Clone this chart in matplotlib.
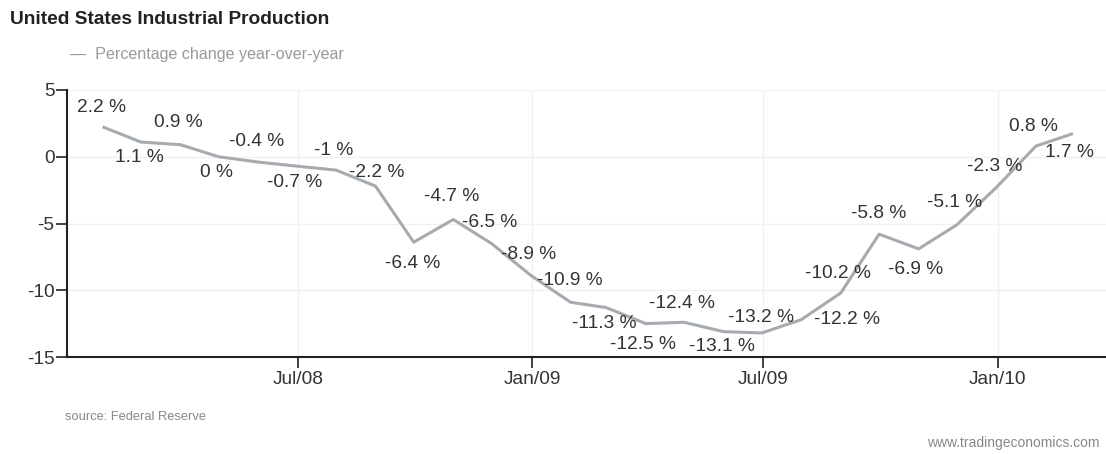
import matplotlib
matplotlib.use("Agg")
import matplotlib.pyplot as plt
import matplotlib.dates as mdates
import numpy as np
import pandas as pd

# ---- data ----
dates = pd.date_range("2008-01-31", "2010-02-28", freq="ME")
values = [2.2, 1.1, 0.9, 0, -0.4, -0.7, -1, -2.2, -6.4, -4.7, -6.5, -8.9,
          -10.9, -11.3, -12.5, -12.4, -13.1, -13.2, -12.2, -10.2, -5.8, -6.9,
          -5.1, -2.3, 0.8, 1.7]
ytick_vals = [5, 0, -5, -10, -15]
xtick_dates = ["2008-07-01", "2009-01-01", "2009-07-01", "2010-01-01"]
xtick_labels = ["Jul/08", "Jan/09", "Jul/09", "Jan/10"]
title = "United States Industrial Production"
legend_label = "Percentage change year-over-year"
source = "source: Federal Reserve"
credit = "www.tradingeconomics.com"

# label offsets in pixels (dx, dy image-down)
label_offsets = [(-2, -20), (-2, 15), (-2, -22), (-2, 16), (-2, -21), (-2, 16),
                 (-2, -20), (1, -14), (-1, 21), (-2, -23), (-2, -21), (-2, -21),
                 (-1, -22), (-2, 16), (-3, 21), (-2, -19), (-2, 15), (-1, -15),
                 (46, 0), (-3, -19), (0, -21), (-3, 21), (-2, -22), (-2, -21),
                 (-2, -20), (-2, 18)]

plt.rcParams['font.family'] = ['Liberation Sans', 'DejaVu Sans']

W, H = 1106, 454
fig = plt.figure(figsize=(W / 100, H / 100), dpi=100)
ax = fig.add_axes([67 / W, 1 - 357 / H, (W - 67) / W, (357 - 90) / H])

ax.plot(dates, values, color="#a6abb0", lw=2.2, solid_joinstyle="round", zorder=3)

for d, v, (dx, dy) in zip(dates, values, label_offsets):
    ax.annotate(f"{v:g} %", xy=(d, v), xytext=(dx, -dy), textcoords="offset pixels",
                ha="center", va="center", fontsize=13.8, color="#333333", zorder=4)

ax.set_ylim(-15, 5)
ax.set_xlim(pd.Timestamp("2008-01-02"), pd.Timestamp("2010-03-27"))
ax.set_yticks(ytick_vals)
ax.set_yticklabels([f"{t:g}" for t in ytick_vals])
ax.set_xticks([pd.Timestamp(t) for t in xtick_dates])
ax.set_xticklabels(xtick_labels)

ax.grid(True, color="#f0f0f0", lw=1)
ax.set_axisbelow(True)
for s in ["top", "right"]:
    ax.spines[s].set_visible(False)
for s in ["left", "bottom"]:
    ax.spines[s].set_color("#222222")
    ax.spines[s].set_linewidth(1.5)
ax.tick_params(axis="both", length=8, width=1.2, color="#222222",
               labelsize=13.8, labelcolor="#333333")
ax.tick_params(axis="x", pad=2)
ax.tick_params(axis="y", pad=1)

fig.text(10 / W, 1 - 20 / H, title, fontsize=13.8, fontweight="bold",
         color="#222222", ha="left", va="center")
fig.text(70 / W, 1 - 55 / H, "—  " + legend_label, fontsize=11.6, color="#999999",
         ha="left", va="center")
fig.text(65 / W, 1 - 417 / H, source, fontsize=9.3, color="#888888",
         ha="left", va="center")
fig.text(1100 / W, 1 - 443 / H, credit, fontsize=10, color="#888888",
         ha="right", va="center")

fig.savefig("out.png", dpi=100)
